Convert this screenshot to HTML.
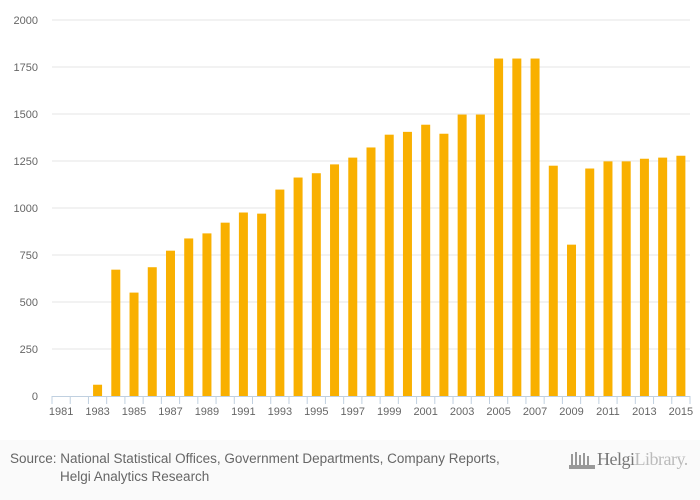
<!DOCTYPE html>
<html><head><meta charset="utf-8"><style>
body{margin:0;width:700px;height:500px;background:#fff;font-family:"Liberation Sans",sans-serif;overflow:hidden}
#footer{position:absolute;left:0;top:440px;width:700px;height:60px;background:#fafafa}
</style></head><body>
<svg id="chart" width="700" height="440" style="position:absolute;left:0;top:0"></svg>
<div id="footer">
<div style="position:absolute;left:10px;top:10px;font-size:13.5px;color:#666;line-height:18px">Source: National Statistical Offices, Government Departments, Company Reports,<br><span style="padding-left:50px">Helgi Analytics Research</span></div>
<div style="position:absolute;left:569px;top:8px;width:125px;height:26px">
<svg width="28" height="22" style="position:absolute;left:0;top:2px"><g fill="#999"><rect x="2" y="4" width="2" height="12"/><rect x="6" y="2" width="2" height="14"/><rect x="10" y="5" width="2" height="11"/><rect x="14" y="3" width="2" height="13"/><rect x="18" y="6" width="2" height="10"/><rect x="0" y="15" width="26" height="4"/></g></svg>
<span style="position:absolute;left:28px;top:1px;font-family:'Liberation Serif',serif;font-size:18px;letter-spacing:-0.5px;color:#777;white-space:nowrap">Helgi<span style="color:#bbb">Library.</span></span>
</div>
</div>
<script>
const years=[1981,1982,1983,1984,1985,1986,1987,1988,1989,1990,1991,1992,1993,1994,1995,1996,1997,1998,1999,2000,2001,2002,2003,2004,2005,2006,2007,2008,2009,2010,2011,2012,2013,2014,2015];
const values=[0,0,60,672,550,685,773,838,865,922,976,970,1098,1162,1185,1232,1268,1322,1390,1405,1443,1395,1497,1497,1795,1795,1795,1225,805,1210,1248,1248,1262,1268,1278];
const yTicks=[0,250,500,750,1000,1250,1500,1750,2000];
const NS="http://www.w3.org/2000/svg";
const svg=document.getElementById('chart');
const x0=52,x1=690,yb=396,yt=20,ymax=2000;
const step=(x1-x0)/years.length;
const y=v=>yb-(v/ymax)*(yb-yt);
const xc=i=>x0+step*(i+0.5);
function mk(t,a){const e=document.createElementNS(NS,t);for(const k in a)e.setAttribute(k,a[k]);svg.appendChild(e);return e;}
yTicks.forEach(v=>{
 if(v>0){const g=mk('line',{x1:x0,x2:x1,y1:y(v),y2:y(v),stroke:'#e6e6e6','stroke-width':1});
 
 }
 const t=mk('text',{x:38,y:y(v)+4,'text-anchor':'end','font-size':11,fill:'#666'});t.textContent=v;
 
 
});
const ax=mk('line',{x1:x0,x2:x1,y1:yb+0.5,y2:yb+0.5,stroke:'#c0d0e0','stroke-width':1});


for(let i=0;i<=years.length;i++){const tk=mk('line',{x1:x0+step*i,x2:x0+step*i,y1:yb,y2:yb+8,stroke:'#c0d0e0'});
 
 }
years.forEach((yr,i)=>{
 const h=yb-y(values[i]);
 if(h>0){const r=mk('rect',{x:xc(i)-4.5,y:y(values[i]),width:9,height:h,fill:'#f9b000'});
 
 }
 if(i%2===0){const t=mk('text',{x:xc(i),y:yb+19,'text-anchor':'middle','font-size':11,fill:'#666'});t.textContent=yr;
 
 }
});
</script>
</body></html>
